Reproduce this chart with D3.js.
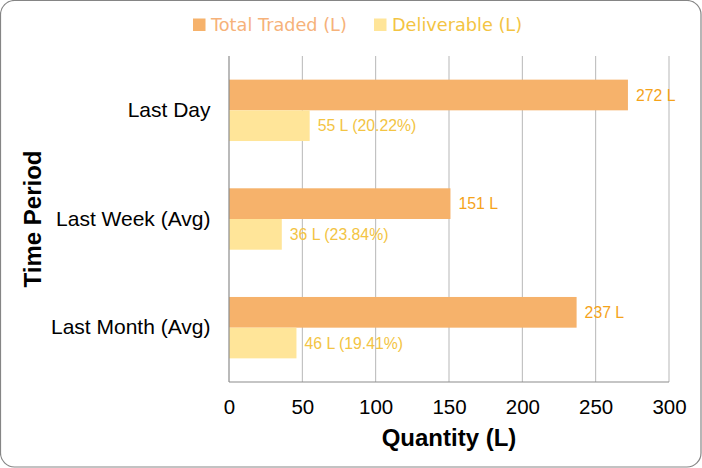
<!DOCTYPE html>
<html>
<head>
<meta charset="utf-8">
<script src="https://cdn.jsdelivr.net/npm/d3@7"></script>
<style>
  body { margin: 0; background: #fff; }
  text { font-family: "Liberation Sans", Arial, sans-serif; }
</style>
</head>
<body>
<div id="container"></div>
<script>
// data
var periods = ["Last Day", "Last Week (Avg)", "Last Month (Avg)"];
var totalTraded = [272, 151, 237];
var deliverable = [55, 36, 46];
var deliverablePct = ["20.22%", "23.84%", "19.41%"];
var seriesNames = ["Total Traded (L)", "Deliverable (L)"];
var xTicks = [0, 50, 100, 150, 200, 250, 300];

var W = 702, H = 468,
    margin = {top: 56, right: 33, bottom: 86, left: 229},
    width = 669 - margin.left,
    height = 382 - margin.top;

var svg = d3.select("div#container").append("svg").attr("width", W).attr("height", H);

// rounded frame
svg.append("rect")
   .attr("x", 0.5).attr("y", 0.5)
   .attr("width", W - 1.5).attr("height", H - 1.5)
   .attr("rx", 14).attr("ry", 14)
   .attr("fill", "#fff").attr("stroke", "#858585").attr("stroke-width", 1.2);

var g = svg.append("g").attr("transform", "translate(" + margin.left + "," + margin.top + ")");

var xScale = d3.scaleLinear().domain([0, 300]).range([0, width]);
var yScale = d3.scaleBand().domain(periods).range([0, height]).paddingInner(0.435).paddingOuter(0.2175);
var barH = yScale.bandwidth() / 2;

// gridlines
g.selectAll("line.grid")
 .data(xTicks.slice(1))
 .enter().append("line")
 .attr("class", "grid")
 .attr("x1", function(d) { return xScale(d); })
 .attr("x2", function(d) { return xScale(d); })
 .attr("y1", 0).attr("y2", height)
 .attr("stroke", "#b7b7b7").attr("stroke-width", 1);

// bars
g.selectAll("rect.total")
 .data(periods)
 .enter().append("rect")
 .attr("x", 0)
 .attr("y", function(d) { return yScale(d); })
 .attr("width", function(d, i) { return xScale(totalTraded[i]); })
 .attr("height", barH)
 .attr("fill", "#f6b26b");

g.selectAll("rect.deliv")
 .data(periods)
 .enter().append("rect")
 .attr("x", 0)
 .attr("y", function(d) { return yScale(d) + barH; })
 .attr("width", function(d, i) { return xScale(deliverable[i]); })
 .attr("height", barH)
 .attr("fill", "#ffe599");

// value labels
g.selectAll("text.tl")
 .data(periods)
 .enter().append("text")
 .attr("x", function(d, i) { return xScale(totalTraded[i]) + 8; })
 .attr("y", function(d) { return yScale(d) + barH / 2; })
 .attr("dy", "0.35em")
 .style("font-size", "15.8px")
 .style("fill", "#f5a31a")
 .text(function(d, i) { return totalTraded[i] + " L"; });

g.selectAll("text.dl")
 .data(periods)
 .enter().append("text")
 .attr("x", function(d, i) { return xScale(deliverable[i]) + 8; })
 .attr("y", function(d) { return yScale(d) + barH * 1.5; })
 .attr("dy", "0.35em")
 .style("font-size", "15.8px")
 .style("fill", "#f3c443")
 .text(function(d, i) { return deliverable[i] + " L (" + deliverablePct[i] + ")"; });

// axes lines
g.append("line").attr("x1", 0).attr("x2", 0).attr("y1", 0).attr("y2", height)
 .attr("stroke", "#8c8c8c").attr("stroke-width", 1.2);
g.append("line").attr("x1", 0).attr("x2", width).attr("y1", height).attr("y2", height)
 .attr("stroke", "#8c8c8c").attr("stroke-width", 1.2);

// x axis
var xAxis = d3.axisBottom(xScale).tickValues(xTicks).tickSize(0).tickPadding(17);
var gx = g.append("g").attr("transform", "translate(0," + height + ")").call(xAxis);
gx.select(".domain").remove();
gx.selectAll("text").style("font-size", "20.5px").style("fill", "#000")
  .style("font-family", "'Liberation Sans', Arial, sans-serif");

// y axis
var yAxis = d3.axisLeft(yScale).tickSize(0).tickPadding(18.5);
var gy = g.append("g").call(yAxis);
gy.select(".domain").remove();
gy.selectAll("text").style("font-size", "21px").style("fill", "#000")
  .style("font-family", "'Liberation Sans', Arial, sans-serif");

// axis titles
svg.append("text")
   .attr("x", 449).attr("y", 446)
   .attr("text-anchor", "middle")
   .style("font-size", "24px").style("font-weight", "bold")
   .text("Quantity (L)");

svg.append("text")
   .attr("transform", "translate(41,219) rotate(-90)")
   .attr("text-anchor", "middle")
   .style("font-size", "24px").style("font-weight", "bold")
   .text("Time Period");

// legend
var legendColors = ["#f6b26b", "#ffe599"];
var legendText = ["#f6b27a", "#f3c443"];
var legendX = [193, 374];
var lg = svg.append("g");
seriesNames.forEach(function(name, i) {
  lg.append("rect").attr("x", legendX[i]).attr("y", 18.5).attr("width", 12.5).attr("height", 12.5)
    .attr("fill", legendColors[i]);
  lg.append("text").attr("x", legendX[i] + 18).attr("y", 31)
    .style("font-family", "'DejaVu Sans', sans-serif")
    .style("font-size", "17.7px").style("fill", legendText[i])
    .text(name);
});
</script>
</body>
</html>
